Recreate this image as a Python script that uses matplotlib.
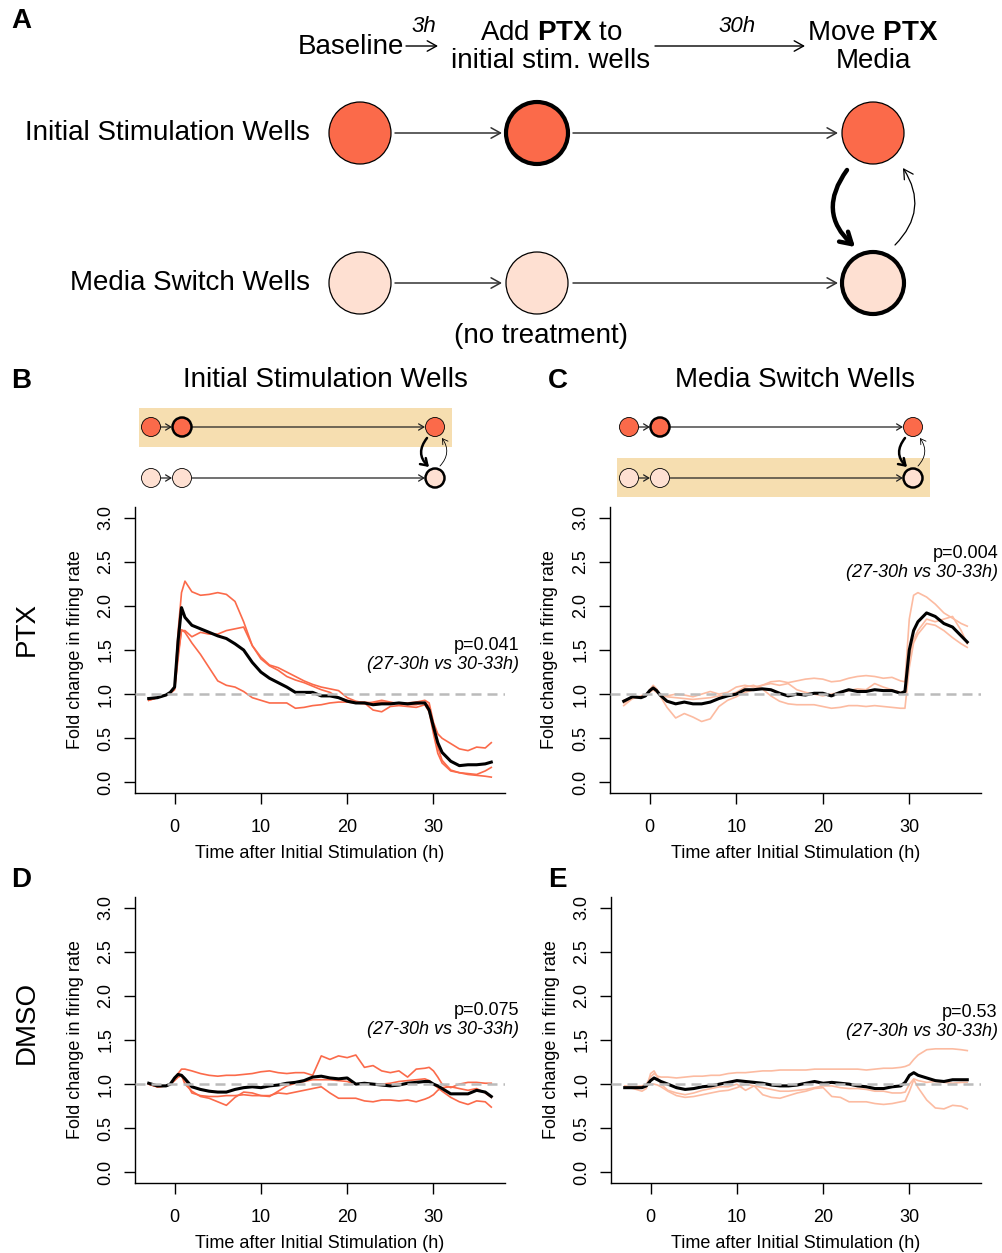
import matplotlib.pyplot as plt
import numpy as np
from matplotlib.patches import Circle, Rectangle, FancyArrowPatch

plt.rcParams["font.family"] = ["Liberation Sans", "DejaVu Sans"]
plt.rcParams["mathtext.fontset"] = "custom"
plt.rcParams["mathtext.rm"] = "Liberation Sans"
plt.rcParams["mathtext.bf"] = "Liberation Sans:bold"
plt.rcParams["mathtext.it"] = "Liberation Sans:italic"

RED = "#FB6A4A"
PINK = "#FCBBA1"
LIGHT = "#FEE0D2"
BAND = "#F6DEB0"

# time grid (h after initial stimulation)
HOURS = [-3, -2, -1, -0.5, 0, 0.4, 0.8, 1.2, 2,
         3, 4, 5, 6, 7, 8, 9, 10, 11, 12,
         13, 14, 15, 16, 17, 18, 19, 20, 21, 22,
         23, 24, 25, 26, 27, 28, 29,
         29.5, 30, 30.5, 31, 32, 33, 34, 35, 36, 36.7]

# B: PTX, initial stimulation wells
B_MEAN = [0.95, 0.96, 0.99, 1.02, 1.08, 1.60, 1.98, 1.87, 1.78,
          1.74, 1.70, 1.66, 1.63, 1.57, 1.50, 1.36, 1.25, 1.18, 1.13,
          1.08, 1.02, 1.02, 1.02, 0.98, 0.98, 0.96, 0.92, 0.90, 0.90,
          0.88, 0.89, 0.89, 0.90, 0.89, 0.90, 0.90,
          0.82, 0.63, 0.45, 0.34, 0.24, 0.19, 0.20, 0.20, 0.21, 0.23]
B_WELL1 = [0.93, 0.96, 0.99, 1.02, 1.08, 1.70, 2.15, 2.28, 2.16,
           2.12, 2.13, 2.15, 2.13, 2.05, 1.82, 1.55, 1.40, 1.32, 1.27,
           1.20, 1.16, 1.13, 1.09, 1.05, 1.02, 0.96, 0.93, 0.91, 0.91,
           0.90, 0.91, 0.90, 0.90, 0.90, 0.91, 0.93,
           0.90, 0.68, 0.55, 0.50, 0.44, 0.38, 0.36, 0.40, 0.39, 0.45]
B_WELL2 = [0.94, 0.96, 0.99, 1.02, 1.07, 1.45, 1.72, 1.72, 1.65,
           1.70, 1.68, 1.68, 1.72, 1.74, 1.76, 1.55, 1.42, 1.33, 1.30,
           1.25, 1.20, 1.15, 1.11, 1.08, 1.06, 1.04, 0.96, 0.92, 0.90,
           0.82, 0.80, 0.86, 0.87, 0.86, 0.85, 0.88,
           0.80, 0.55, 0.33, 0.22, 0.13, 0.11, 0.10, 0.09, 0.13, 0.17]
B_WELL3 = [0.93, 0.96, 0.99, 1.01, 1.05, 1.40, 1.73, 1.70, 1.58,
           1.45, 1.30, 1.15, 1.10, 1.08, 1.03, 0.96, 0.93, 0.90, 0.90,
           0.90, 0.84, 0.85, 0.87, 0.88, 0.90, 0.91, 0.91, 0.90, 0.89,
           0.91, 0.93, 0.91, 0.89, 0.88, 0.88, 0.91,
           0.86, 0.62, 0.40, 0.25, 0.14, 0.11, 0.09, 0.08, 0.07, 0.06]

# C: PTX, media switch wells
C_MEAN = [0.92, 0.97, 0.96, 0.98, 1.04, 1.07, 1.04, 0.99, 0.92,
          0.89, 0.91, 0.89, 0.89, 0.91, 0.95, 0.98, 1.00, 1.05, 1.05,
          1.06, 1.05, 1.01, 0.98, 1.00, 0.99, 1.01, 1.01, 0.98, 1.02,
          1.05, 1.03, 1.03, 1.05, 1.04, 1.04, 1.01,
          1.03, 1.50, 1.72, 1.82, 1.92, 1.88, 1.80, 1.76, 1.66, 1.59]
C_WELL1 = [0.87, 0.95, 0.97, 0.98, 1.05, 1.10, 1.06, 0.98, 0.85,
           0.73, 0.78, 0.74, 0.69, 0.72, 0.86, 0.93, 0.97, 1.02, 1.05,
           1.10, 1.14, 1.15, 1.13, 1.15, 1.17, 1.18, 1.17, 1.14, 1.15,
           1.18, 1.20, 1.21, 1.20, 1.18, 1.19, 1.15,
           1.14, 1.85, 2.12, 2.15, 2.10, 2.02, 1.92, 1.86, 1.80, 1.77]
C_WELL2 = [0.93, 0.96, 0.97, 0.98, 1.03, 1.08, 1.05, 1.00, 0.97,
           0.96, 0.95, 0.94, 0.95, 0.96, 0.98, 0.99, 1.02, 1.08, 1.10,
           1.06, 0.98, 0.92, 0.89, 0.88, 0.88, 0.88, 0.86, 0.84, 0.85,
           0.87, 0.87, 0.86, 0.87, 0.86, 0.85, 0.84,
           0.84, 1.30, 1.58, 1.68, 1.80, 1.78, 1.72, 1.64, 1.57, 1.53]
C_WELL3 = [0.90, 0.95, 0.98, 1.00, 1.02, 1.05, 1.02, 1.00, 0.98,
           1.00, 0.99, 0.97, 1.00, 1.03, 1.00, 1.02, 1.08, 1.10, 1.08,
           1.10, 1.12, 1.10, 1.12, 1.05, 1.02, 1.00, 0.98, 1.00, 1.02,
           1.04, 1.06, 1.05, 1.12, 1.08, 1.05, 1.02,
           1.03, 1.40, 1.62, 1.72, 1.85, 1.82, 1.85, 1.88, 1.72, 1.57]

# D: DMSO, initial stimulation wells
D_MEAN = [1.01, 0.98, 0.98, 1.00, 1.07, 1.11, 1.10, 1.06, 0.97,
          0.94, 0.92, 0.91, 0.91, 0.94, 0.96, 0.97, 0.96, 0.98, 0.99,
          1.01, 1.02, 1.04, 1.08, 1.09, 1.07, 1.06, 1.07, 1.00, 1.01,
          1.00, 0.99, 0.98, 0.99, 1.01, 1.02, 1.03,
          1.03, 1.00, 0.98, 0.95, 0.89, 0.89, 0.89, 0.93, 0.91, 0.86]
D_WELL1 = [1.00, 0.97, 0.98, 1.00, 1.05, 1.12, 1.17, 1.17, 1.15,
           1.12, 1.10, 1.09, 1.10, 1.10, 1.11, 1.12, 1.14, 1.15, 1.13,
           1.12, 1.13, 1.13, 1.10, 1.32, 1.28, 1.32, 1.30, 1.33, 1.19,
           1.21, 1.15, 1.13, 1.15, 1.08, 1.17, 1.18,
           1.19, 1.15, 1.08, 1.00, 0.96, 1.00, 1.02, 1.02, 1.01, 1.01]
D_WELL2 = [1.00, 0.97, 0.98, 1.00, 1.04, 1.08, 1.10, 1.05, 0.90,
           0.87, 0.86, 0.86, 0.87, 0.87, 0.88, 0.87, 0.87, 0.87, 0.90,
           0.89, 0.91, 0.93, 0.95, 0.97, 0.90, 0.84, 0.84, 0.84, 0.81,
           0.80, 0.82, 0.82, 0.81, 0.82, 0.80, 0.83,
           0.85, 0.88, 0.93, 0.96, 0.97, 0.95, 0.93, 0.95, 0.90, 0.85]
D_WELL3 = [1.00, 0.97, 0.98, 1.00, 1.05, 1.08, 1.10, 1.00, 0.92,
           0.86, 0.84, 0.80, 0.76, 0.85, 0.91, 0.90, 0.87, 0.86, 0.92,
           0.98, 1.01, 1.03, 1.05, 1.05, 1.05, 1.04, 1.03, 1.00, 1.00,
           1.00, 1.00, 1.01, 1.03, 1.04, 1.05, 1.06,
           1.04, 1.00, 0.96, 0.92, 0.85, 0.80, 0.77, 0.81, 0.80, 0.74]

# E: DMSO, media switch wells
E_MEAN = [0.96, 0.96, 0.96, 0.98, 1.04, 1.07, 1.05, 1.03, 1.00,
          0.96, 0.94, 0.95, 0.97, 0.98, 1.00, 1.02, 1.04, 1.03, 1.02,
          1.01, 0.99, 0.98, 0.98, 0.99, 1.01, 1.03, 1.01, 1.02, 1.01,
          1.00, 0.98, 0.97, 0.95, 0.95, 0.97, 0.98,
          1.02, 1.10, 1.13, 1.10, 1.07, 1.04, 1.03, 1.05, 1.05, 1.05]
E_WELL1 = [0.97, 0.97, 0.98, 1.00, 1.08, 1.12, 1.09, 1.08, 1.08,
           1.07, 1.08, 1.09, 1.09, 1.10, 1.10, 1.12, 1.13, 1.13, 1.14,
           1.15, 1.15, 1.16, 1.16, 1.16, 1.16, 1.17, 1.17, 1.17, 1.17,
           1.17, 1.17, 1.16, 1.17, 1.18, 1.18, 1.19,
           1.20, 1.22, 1.28, 1.33, 1.39, 1.40, 1.40, 1.40, 1.39, 1.38]
E_WELL2 = [0.97, 0.95, 0.92, 0.95, 1.12, 1.15, 1.08, 1.00, 0.93,
           0.90, 0.88, 0.90, 0.93, 0.95, 0.97, 0.97, 1.00, 0.93, 0.98,
           0.88, 0.85, 0.84, 0.87, 0.90, 0.92, 0.95, 0.96, 0.86, 0.85,
           0.80, 0.80, 0.80, 0.78, 0.77, 0.78, 0.80,
           0.81, 0.92, 1.05, 0.96, 0.82, 0.73, 0.72, 0.76, 0.75, 0.72]
E_WELL3 = [0.98, 0.97, 0.96, 0.98, 1.00, 1.00, 0.99, 0.97, 0.92,
           0.87, 0.85, 0.86, 0.88, 0.90, 0.92, 0.93, 0.96, 1.00, 0.98,
           0.96, 0.94, 0.92, 0.92, 0.93, 0.94, 0.96, 0.98, 0.98, 0.96,
           0.95, 0.95, 0.94, 0.92, 0.92, 0.90, 0.90,
           0.91, 1.00, 1.06, 1.04, 1.02, 1.03, 1.02, 1.01, 1.02, 1.02]

P_VALUES = ["p=0.041", "p=0.004", "p=0.075", "p=0.53"]
P_HEIGHTS = [1.55, 2.59, 1.83, 1.81]
X_TICKS = [0, 10, 20, 30]
Y_TICKS = [0.0, 0.5, 1.0, 1.5, 2.0, 2.5, 3.0]

fig = plt.figure(figsize=(10.02, 12.53), dpi=100)

# overlay in pixel coordinates for the schematic parts
ov = fig.add_axes([0, 0, 1, 1])
ov.set_xlim(0, 1002)
ov.set_ylim(1253, 0)
ov.axis("off")


def well(x, y, r, fill, lw):
    ov.add_patch(Circle((x, y), r, facecolor=fill, edgecolor="black", lw=lw, zorder=3))


def arrow(p0, p1, lw=1.1, rad=0.0, hl=0.45, hw=0.25, ms=15, color="#333333"):
    ov.add_patch(FancyArrowPatch(p0, p1, arrowstyle=f"->,head_length={hl},head_width={hw}",
                                 connectionstyle=f"arc3,rad={rad}", mutation_scale=ms,
                                 lw=lw, color=color, shrinkA=0, shrinkB=0, zorder=2))


# ---- panel A ----
R = 31
for cx in [360, 537, 873]:
    well(cx, 133, R, RED, 0.9 if cx != 537 else 3.0)
    well(cx, 283, R, LIGHT, 0.9 if cx != 873 else 3.0)
for y in [133, 283]:
    arrow((395, y), (502, y))
    arrow((573, y), (838, y))
arrow((847, 170), (855, 247), lw=3.2, rad=0.45, hl=0.5, hw=0.3, ms=16, color="black")
arrow((895, 245), (903, 168), lw=0.9, rad=0.4, color="black")

ov.text(310, 133, "Initial Stimulation Wells", ha="right", va="center", fontsize=20)
ov.text(310, 283, "Media Switch Wells", ha="right", va="center", fontsize=20)
ov.text(541, 336, "(no treatment)", ha="center", va="center", fontsize=20)
ov.text(404, 47, "Baseline", ha="right", va="center", fontsize=20)
ov.text(424, 27, "3h", ha="center", va="center", fontsize=16, style="italic")
arrow((406, 46), (438, 46), lw=1.0, color="black")
ov.text(551, 33, r"Add $\mathbf{PTX}$ to", ha="center", va="center", fontsize=20)
ov.text(551, 61, "initial stim. wells", ha="center", va="center", fontsize=20)
ov.text(737, 27, "30h", ha="center", va="center", fontsize=16, style="italic")
arrow((655, 46), (805, 46), lw=1.0, color="black")
ov.text(873, 33, r"Move $\mathbf{PTX}$", ha="center", va="center", fontsize=20)
ov.text(873, 61, "Media", ha="center", va="center", fontsize=20)


# ---- mini schematics for B and C ----
def mini(x0, band_row):
    by = 408 if band_row == 0 else 458
    ov.add_patch(Rectangle((x0 - 12, by), 313, 39, facecolor=BAND, edgecolor="none", zorder=1))
    r = 9.5
    well(x0, 427, r, RED, 0.6)
    well(x0 + 31, 427, r, RED, 1.8)
    well(x0 + 284, 427, r, RED, 0.6)
    well(x0, 478, r, LIGHT, 0.6)
    well(x0 + 31, 478, r, LIGHT, 0.6)
    well(x0 + 284, 478, r, LIGHT, 1.8)
    for y in [427, 478]:
        arrow((x0 + 10, y), (x0 + 21, y), lw=0.9, hl=0.25, hw=0.15, color="#222222")
        arrow((x0 + 41, y), (x0 + 274, y), lw=0.9, hl=0.25, hw=0.15, color="#222222")
    arrow((x0 + 276, 438), (x0 + 278, 467), lw=1.8, rad=0.45, hl=0.3, hw=0.2, color="black")
    arrow((x0 + 289, 466), (x0 + 291, 438), lw=0.6, rad=0.4, hl=0.25, hw=0.15, color="black")


mini(151, 0)
mini(629, 1)

ov.text(325, 380, "Initial Stimulation Wells", ha="center", va="center", fontsize=20)
ov.text(795, 380, "Media Switch Wells", ha="center", va="center", fontsize=20)
ov.text(27, 629, "PTX", ha="center", va="center", fontsize=20, rotation=90)
ov.text(27, 1022, "DMSO", ha="center", va="center", fontsize=20, rotation=90)
for letter, lx, ly in [("A", 21, 21), ("B", 21, 381), ("C", 558, 381), ("D", 21, 880), ("E", 557, 880)]:
    ov.text(lx, ly, letter, ha="center", va="center", fontsize=20, fontweight="bold")


# ---- line panels ----
def panel(rect, mean, wells, color, ptext, py, px):
    ax = fig.add_axes(rect)
    ax.patch.set_alpha(0)
    for w in wells:
        ax.plot(HOURS, w, color=color, lw=1.2, zorder=2)
    ax.plot(HOURS, mean, color="black", lw=2.2, zorder=3)
    ax.axhline(1.0, color="#BBBBBB", lw=1.8, ls=(0, (4, 2.4)), zorder=4)
    ax.set_xlim(-4.59, 38.29)
    ax.set_ylim(-0.12, 3.12)
    for s in ["top", "right"]:
        ax.spines[s].set_visible(False)
    for s in ["left", "bottom"]:
        ax.spines[s].set_linewidth(1.0)
    ax.set_xticks(X_TICKS)
    ax.set_yticks(Y_TICKS, labels=[f"{v:.1f}" for v in Y_TICKS], rotation=90, va="center")
    ax.tick_params(direction="out", length=8, width=1.0, labelsize=13)
    ax.tick_params(axis="x", pad=11)
    ax.tick_params(axis="y", pad=7)
    ax.set_xlabel("Time after Initial Stimulation (h)", fontsize=13)
    ax.set_ylabel("Fold change in firing rate", fontsize=13)
    ax.xaxis.set_label_coords(0.5, -0.21)
    ax.xaxis.label.set_va("center")
    ax.yaxis.set_label_coords(-0.162, 0.5)
    ax.yaxis.label.set_va("center")
    tr = ax.get_yaxis_transform()
    ax.text(px, py, ptext, transform=tr, ha="right", va="center", fontsize=13, clip_on=False)
    ax.text(px, py - 0.21, "(27-30h vs 30-33h)", transform=tr, ha="right", va="center",
            fontsize=13, style="italic", clip_on=False)
    return ax


H = 1253.0
W = 1002.0
panel([135 / W, 1 - 793 / H, 370 / W, 286 / H], B_MEAN, [B_WELL1, B_WELL2, B_WELL3], RED,
      P_VALUES[0], P_HEIGHTS[0], 1.038)
panel([610 / W, 1 - 793 / H, 371 / W, 286 / H], C_MEAN, [C_WELL1, C_WELL2, C_WELL3], PINK,
      P_VALUES[1], P_HEIGHTS[1], 1.046)
panel([135 / W, 1 - 1183 / H, 370 / W, 286 / H], D_MEAN, [D_WELL1, D_WELL2, D_WELL3], RED,
      P_VALUES[2], P_HEIGHTS[2], 1.038)
panel([611 / W, 1 - 1183 / H, 370 / W, 286 / H], E_MEAN, [E_WELL1, E_WELL2, E_WELL3], PINK,
      P_VALUES[3], P_HEIGHTS[3], 1.045)

fig.savefig("out.png", dpi=100)
